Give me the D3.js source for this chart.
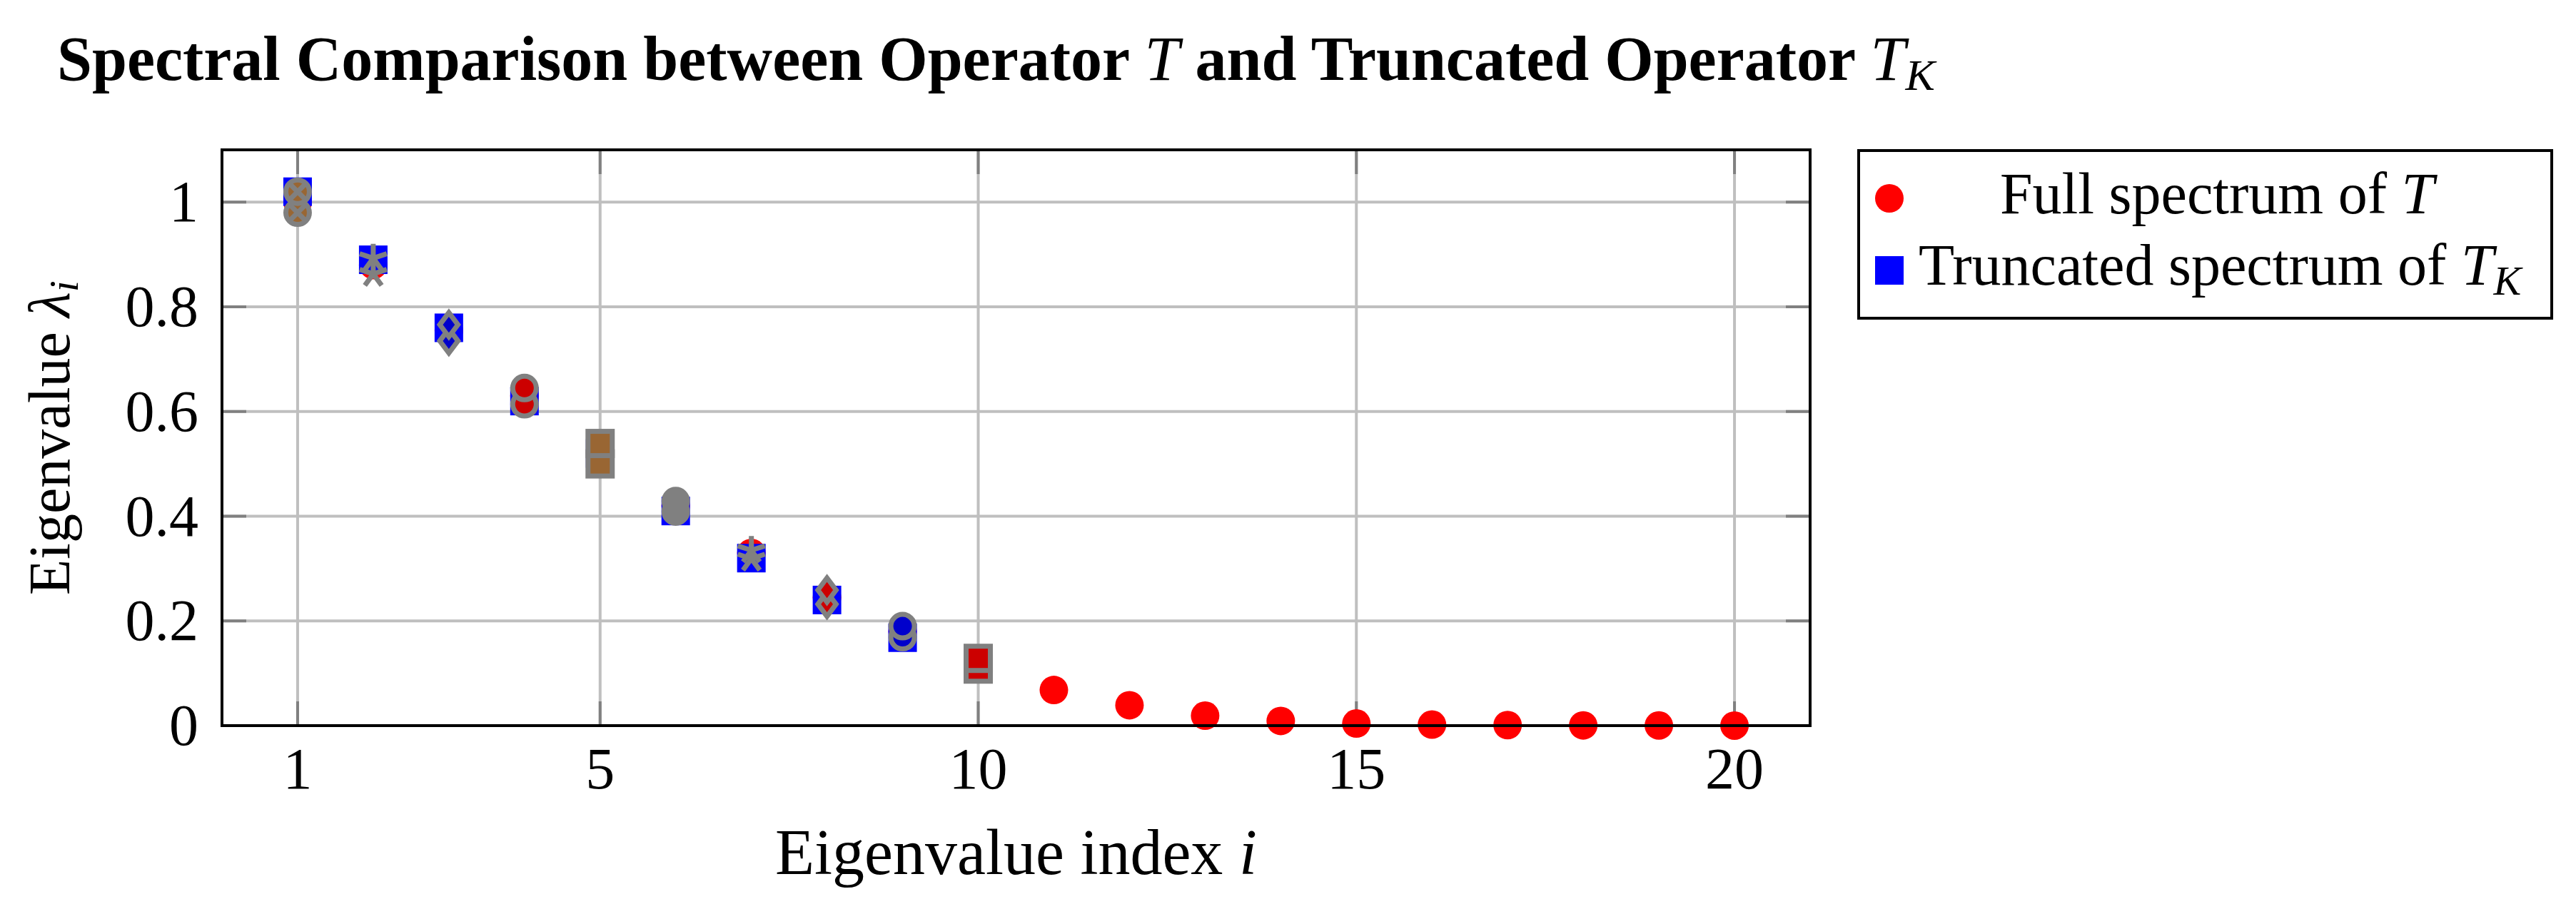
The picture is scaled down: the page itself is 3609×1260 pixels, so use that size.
<!DOCTYPE html>
<html>
<head>
<meta charset="utf-8">
<script src="https://cdn.jsdelivr.net/npm/d3@7"></script>
<style>
  html, body { margin: 0; padding: 0; background: #fff; }
  text { font-family: "Liberation Serif", "DejaVu Serif", serif; }
</style>
</head>
<body>
<svg id="chart" width="3609" height="1260"></svg>
<script>
// ---------- data ----------
const indices = [1,2,3,4,5,6,7,8,9,10,11,12,13,14,15,16,17,18,19,20];
const fullSpectrum = [1.00, 0.88, 0.755, 0.63, 0.52, 0.42, 0.33, 0.245, 0.18, 0.12,
                      0.068, 0.039, 0.019, 0.009, 0.004, 0.002, 0.001, 0.0005, 0.0003, 0.0001];
const truncIndices = [1,2,3,4,5,6,7,8,9,10];
const truncatedSpectrum = [1.02, 0.89, 0.76, 0.62, 0.52, 0.41, 0.32, 0.24, 0.168, 0.118];
// paired overlay marks (upper / lower) drawn over the first ten indices
const overlayUpper = [1.02, 0.893, 0.766, 0.645, 0.539, 0.429, 0.335, 0.259, 0.190, 0.1285];
const overlayLower = [0.98, 0.863, 0.735, 0.614, 0.500, 0.409, 0.319, 0.232, 0.169, 0.108];
const overlayMarks = ["otimes","star","diamond","circle","square","circle","star","diamond","circle","square"];
const overlayFills = ["#996633","none","#0000cc","#cc0000","#996633","#808080","none","#cc0000","#0000cc","#cc0000"];
const xTicks = [1,5,10,15,20];
const yTicks = [0,0.2,0.4,0.6,0.8,1];
const yTickLabels = ["0","0.2","0.4","0.6","0.8","1"];
const legendLabels = ["Full spectrum of ", "Truncated spectrum of "];

// ---------- layout ----------
const svg = d3.select("#chart");
svg.append("rect").attr("width",3609).attr("height",1260).attr("fill","#fff");
const L = 311, R = 2536, T = 210, B = 1017;
const x = d3.scaleLinear().domain([0,21]).range([L,R]);
const y = d3.scaleLinear().domain([0,1.1]).range([B,T]);

const gridColor = "#bfbfbf", tickColor = "#808080", gray = "#808080";

// grid
const g = svg.append("g");
g.selectAll(".vg").data(xTicks).join("line")
  .attr("x1",d=>x(d)).attr("x2",d=>x(d)).attr("y1",T).attr("y2",B)
  .attr("stroke",gridColor).attr("stroke-width",4);
g.selectAll(".hg").data(yTicks).join("line")
  .attr("x1",L).attr("x2",R).attr("y1",d=>y(d)).attr("y2",d=>y(d))
  .attr("stroke",gridColor).attr("stroke-width",4);

// ticks (inside, all four sides)
const tl = 34;
const tk = svg.append("g").attr("stroke",tickColor).attr("stroke-width",4);
xTicks.forEach(d=>{
  tk.append("line").attr("x1",x(d)).attr("x2",x(d)).attr("y1",B).attr("y2",B-tl);
  tk.append("line").attr("x1",x(d)).attr("x2",x(d)).attr("y1",T).attr("y2",T+tl);
});
yTicks.forEach(d=>{
  tk.append("line").attr("x1",L).attr("x2",L+tl).attr("y1",y(d)).attr("y2",y(d));
  tk.append("line").attr("x1",R).attr("x2",R-tl).attr("y1",y(d)).attr("y2",y(d));
});

// ---------- marks ----------
const pts = svg.append("g");
// full spectrum: red circles
pts.selectAll(".full").data(indices).join("circle")
  .attr("cx",d=>x(d)).attr("cy",(d,i)=>y(fullSpectrum[i])).attr("r",20)
  .attr("fill","#ff0000");
// truncated: blue squares
pts.selectAll(".trunc").data(truncIndices).join("rect")
  .attr("x",d=>x(d)-20).attr("y",(d,i)=>y(truncatedSpectrum[i])-20)
  .attr("width",40).attr("height",40).attr("fill","#0000ff");

function drawMark(parent, type, cx, cy, fill){
  const sw = 7;
  const gg = parent.append("g").attr("transform",`translate(${cx},${cy})`)
    .attr("stroke",gray).attr("stroke-width",sw).attr("fill",fill);
  if (type === "circle") {
    gg.append("circle").attr("r",16.5);
  } else if (type === "otimes") {
    gg.append("circle").attr("r",16.5);
    const a = 16.5*Math.SQRT1_2;
    gg.append("path").attr("d",`M${-a},${-a}L${a},${a}M${-a},${a}L${a},${-a}`).attr("fill","none");
  } else if (type === "square") {
    gg.append("rect").attr("x",-17).attr("y",-17).attr("width",34).attr("height",34);
  } else if (type === "diamond") {
    gg.append("path").attr("d","M0,-17L12.75,0L0,17L-12.75,0Z").attr("stroke-linejoin","miter");
  } else if (type === "star") {
    let d = "";
    for (let k=0;k<5;k++){
      const ang = -Math.PI/2 + k*2*Math.PI/5;
      d += `M0,0L${20*Math.cos(ang)},${20*Math.sin(ang)}`;
    }
    gg.append("path").attr("d",d).attr("fill","none");
  }
}
const ov = svg.append("g");
truncIndices.forEach((d,i)=>{
  drawMark(ov, overlayMarks[i], x(d), y(overlayLower[i]), overlayFills[i]);
  drawMark(ov, overlayMarks[i], x(d), y(overlayUpper[i]), overlayFills[i]);
});

// frame
svg.append("rect").attr("x",L).attr("y",T).attr("width",R-L).attr("height",B-T)
  .attr("fill","none").attr("stroke","#000").attr("stroke-width",4);

// ---------- tick labels ----------
const fs = 82;
svg.append("g").selectAll("text").data(xTicks).join("text")
  .attr("x",d=>x(d)).attr("y",1105).attr("text-anchor","middle")
  .attr("font-size",fs).text(d=>d);
svg.append("g").selectAll("text").data(yTicks).join("text")
  .attr("x",278).attr("y",d=>y(d)+27).attr("text-anchor","end")
  .attr("font-size",fs).text((d,i)=>yTickLabels[i]);

// ---------- axis labels ----------
const xl = svg.append("text").attr("x",(L+R)/2).attr("y",1225).attr("text-anchor","middle").attr("font-size",90);
xl.append("tspan").text("Eigenvalue index ");
xl.append("tspan").attr("font-style","italic").text("i");

const yl = svg.append("text").attr("transform",`translate(97,${(T+B)/2}) rotate(-90)`)
  .attr("text-anchor","middle").attr("font-size",fs);
yl.append("tspan").text("Eigenvalue ");
yl.append("tspan").attr("font-style","italic").text("λ");
yl.append("tspan").attr("font-style","italic").attr("font-size",58).attr("dy",12).text("i");

// ---------- title ----------
const tt = svg.append("text").attr("x",80).attr("y",112).attr("font-size",88).attr("font-weight","bold");
tt.append("tspan").text("Spectral Comparison between Operator ");
tt.append("tspan").attr("font-style","italic").attr("font-weight","normal").text("T");
tt.append("tspan").text(" and Truncated Operator ");
tt.append("tspan").attr("font-style","italic").attr("font-weight","normal").text("T");
tt.append("tspan").attr("font-style","italic").attr("font-weight","normal").attr("font-size",62).attr("dy",14).text("K");

// ---------- legend ----------
const lg = svg.append("g");
lg.append("rect").attr("x",2604).attr("y",211).attr("width",3575-2604).attr("height",446-211)
  .attr("fill","#fff").attr("stroke","#000").attr("stroke-width",4);
lg.append("circle").attr("cx",2647).attr("cy",278).attr("r",20).attr("fill","#ff0000");
lg.append("rect").attr("x",2627).attr("y",359).attr("width",40).attr("height",40).attr("fill","#0000ff");
const l1 = lg.append("text").attr("x",3106).attr("y",299).attr("text-anchor","middle").attr("font-size",fs);
l1.append("tspan").text(legendLabels[0]);
l1.append("tspan").attr("font-style","italic").text("T");
const l2 = lg.append("text").attr("x",2688).attr("y",399).attr("font-size",fs);
l2.append("tspan").text(legendLabels[1]);
l2.append("tspan").attr("font-style","italic").text("T");
l2.append("tspan").attr("font-style","italic").attr("font-size",58).attr("dy",14).text("K");
</script>
</body>
</html>
